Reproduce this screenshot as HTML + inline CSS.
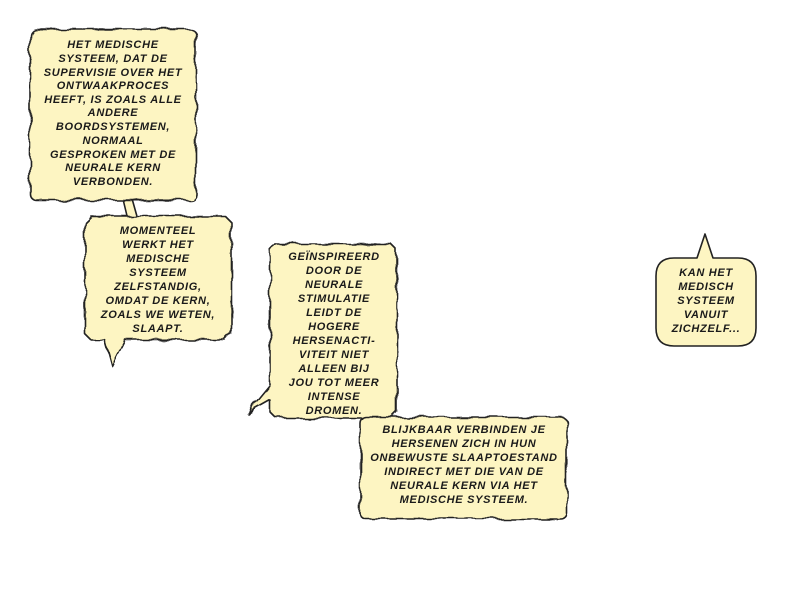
<!DOCTYPE html>
<html><head><meta charset="utf-8"><style>
html,body{margin:0;padding:0;background:#fff;}
svg{display:block}
text{font-family:"Liberation Sans",sans-serif;font-weight:bold;font-style:italic;font-size:11px;letter-spacing:0.7px;fill:#1a1a1a;text-anchor:middle;}
</style></head><body>
<svg width="800" height="600" viewBox="0 0 800 600" xmlns="http://www.w3.org/2000/svg">
<defs>
<filter id="j" x="-10%" y="-10%" width="120%" height="120%">
<feTurbulence type="fractalNoise" baseFrequency="0.07" numOctaves="1" seed="5"/>
<feDisplacementMap in="SourceGraphic" scale="8"/>
</filter>
</defs>
<g fill="#fdf5c2" stroke="#222" stroke-width="1.6" stroke-linejoin="round">
<polygon points="122,195 131,195 138,220 128,220"/>
<g filter="url(#j)">
<rect x="30" y="29" width="166" height="171" rx="6"/>
<path d="M91,216 L225,216 L231,222 L231,334 L225,340 L125,340 L112,366 L105,340 L91,340 L85,334 L85,222 Z"/>
<path d="M276,244 L391,244 L397,250 L397,412 L391,418 L276,418 L270,412 L270,400 L247,413 L270,385 L270,250 Z"/>
<rect x="360" y="417" width="207" height="102" rx="6"/>
</g>
<path d="M674,258 L697,258 L705,234 L713,258 L738,258 Q756,258 756,276 L756,328 Q756,346 738,346 L674,346 Q656,346 656,328 L656,276 Q656,258 674,258 Z"/>
</g>
<g>
<text x="113" y="48">HET MEDISCHE</text>
<text x="113" y="62">SYSTEEM, DAT DE</text>
<text x="113" y="76">SUPERVISIE OVER HET</text>
<text x="113" y="89">ONTWAAKPROCES</text>
<text x="113" y="103">HEEFT, IS ZOALS ALLE</text>
<text x="113" y="116">ANDERE</text>
<text x="113" y="130">BOORDSYSTEMEN,</text>
<text x="113" y="144">NORMAAL</text>
<text x="113" y="158">GESPROKEN MET DE</text>
<text x="113" y="171">NEURALE KERN</text>
<text x="113" y="185">VERBONDEN.</text>

<text x="158" y="234">MOMENTEEL</text>
<text x="158" y="248">WERKT HET</text>
<text x="158" y="262">MEDISCHE</text>
<text x="158" y="276">SYSTEEM</text>
<text x="158" y="290">ZELFSTANDIG,</text>
<text x="158" y="304">OMDAT DE KERN,</text>
<text x="158" y="318">ZOALS WE WETEN,</text>
<text x="158" y="332">SLAAPT.</text>

<text x="334" y="260">GEÏNSPIREERD</text>
<text x="334" y="274">DOOR DE</text>
<text x="334" y="288">NEURALE</text>
<text x="334" y="302">STIMULATIE</text>
<text x="334" y="316">LEIDT DE</text>
<text x="334" y="330">HOGERE</text>
<text x="334" y="344">HERSENACTI-</text>
<text x="334" y="358">VITEIT NIET</text>
<text x="334" y="372">ALLEEN BIJ</text>
<text x="334" y="386">JOU TOT MEER</text>
<text x="334" y="400">INTENSE</text>
<text x="334" y="414">DROMEN.</text>

<text x="464" y="433">BLIJKBAAR VERBINDEN JE</text>
<text x="464" y="447">HERSENEN ZICH IN HUN</text>
<text x="464" y="461">ONBEWUSTE SLAAPTOESTAND</text>
<text x="464" y="475">INDIRECT MET DIE VAN DE</text>
<text x="464" y="489">NEURALE KERN VIA HET</text>
<text x="464" y="503">MEDISCHE SYSTEEM.</text>

<text x="706" y="276">KAN HET</text>
<text x="706" y="290">MEDISCH</text>
<text x="706" y="304">SYSTEEM</text>
<text x="706" y="318">VANUIT</text>
<text x="706" y="332">ZICHZELF...</text>
</g>
</svg>
</body></html>
